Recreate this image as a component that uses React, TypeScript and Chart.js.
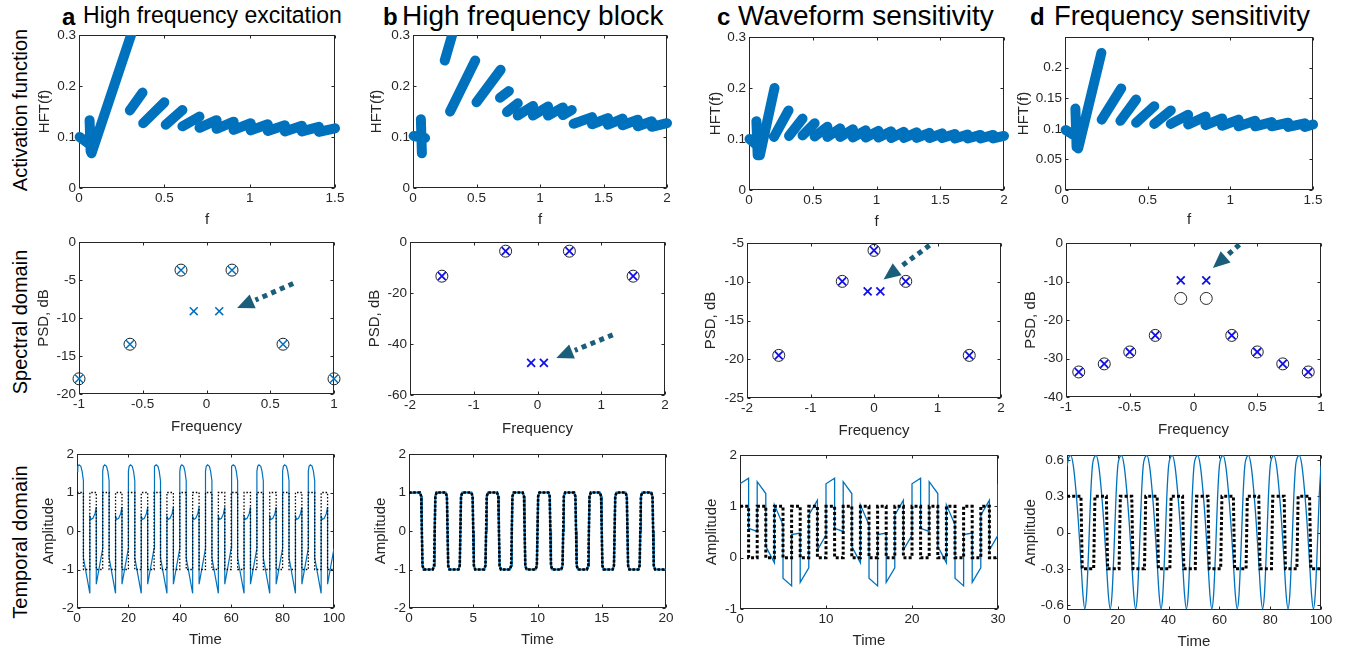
import React, { useEffect, useRef } from "react";
import { Chart, registerables } from "chart.js";
Chart.register(...registerables);

// ---------------- Row 1: activation function HFT(f) (segments separated by null) ----------------
const hftA: (number[] | null)[] = [
  [0.004, 0.1], [0.055, 0.087], null,
  [0.062, 0.133], [0.068, 0.072], null,
  [0.073, 0.068], [0.31, 0.305], null,
  [0.298, 0.152], [0.372, 0.187], null,
  [0.376, 0.127], [0.5, 0.168], null,
  [0.508, 0.124], [0.606, 0.153], null,
  [0.606, 0.121], [0.706, 0.14], null,
  [0.706, 0.118], [0.806, 0.133], null,
  [0.806, 0.116], [0.906, 0.13], null,
  [0.906, 0.114], [1.006, 0.127], null,
  [1.006, 0.113], [1.106, 0.125], null,
  [1.106, 0.112], [1.206, 0.123], null,
  [1.206, 0.111], [1.306, 0.122], null,
  [1.306, 0.111], [1.406, 0.12], null,
  [1.406, 0.11], [1.5, 0.117],
];
const hftB: (number[] | null)[] = [
  [0.005, 0.102], [0.095, 0.098], null,
  [0.062, 0.135], [0.07, 0.068], null,
  [0.25, 0.25], [0.32, 0.31], null,
  [0.292, 0.15], [0.49, 0.25], null,
  [0.5, 0.168], [0.69, 0.232], null,
  [0.685, 0.177], [0.755, 0.19], null,
  [0.74, 0.149], [0.825, 0.166], null,
  [0.825, 0.142], [0.945, 0.161], null,
  [0.945, 0.142], [1.063, 0.16], null,
  [1.063, 0.142], [1.18, 0.158], null,
  [1.18, 0.143], [1.25, 0.153], null,
  [1.265, 0.126], [1.41, 0.139], null,
  [1.41, 0.125], [1.535, 0.137], null,
  [1.535, 0.124], [1.65, 0.136], null,
  [1.65, 0.123], [1.77, 0.134], null,
  [1.77, 0.121], [1.88, 0.131], null,
  [1.88, 0.12], [2.0, 0.127],
];
const hftC: (number[] | null)[] = [
  [0.004, 0.1], [0.05, 0.09], null,
  [0.058, 0.135], [0.068, 0.068], null,
  [0.085, 0.068], [0.2, 0.2], null,
  [0.196, 0.104], [0.31, 0.156], null,
  [0.314, 0.106], [0.42, 0.14], null,
  [0.42, 0.107], [0.515, 0.131], null,
  [0.515, 0.105], [0.615, 0.124], null,
  [0.615, 0.104], [0.715, 0.121], null,
  [0.715, 0.104], [0.815, 0.119], null,
  [0.815, 0.103], [0.915, 0.117], null,
  [0.915, 0.103], [1.015, 0.116], null,
  [1.015, 0.103], [1.115, 0.115], null,
  [1.115, 0.102], [1.215, 0.114], null,
  [1.215, 0.102], [1.315, 0.113], null,
  [1.315, 0.102], [1.415, 0.112], null,
  [1.415, 0.102], [1.515, 0.111], null,
  [1.515, 0.102], [1.615, 0.11], null,
  [1.615, 0.101], [1.715, 0.109], null,
  [1.715, 0.101], [1.815, 0.108], null,
  [1.815, 0.101], [1.915, 0.108], null,
  [1.915, 0.101], [2.0, 0.106],
];
const hftD: (number[] | null)[] = [
  [0.004, 0.098], [0.05, 0.09], null,
  [0.063, 0.133], [0.07, 0.07], null,
  [0.08, 0.068], [0.22, 0.224], null,
  [0.222, 0.115], [0.34, 0.166], null,
  [0.335, 0.113], [0.43, 0.148], null,
  [0.43, 0.11], [0.54, 0.137], null,
  [0.54, 0.108], [0.64, 0.13], null,
  [0.64, 0.108], [0.745, 0.123], null,
  [0.745, 0.107], [0.85, 0.12], null,
  [0.85, 0.106], [0.95, 0.117], null,
  [0.95, 0.105], [1.05, 0.115], null,
  [1.05, 0.104], [1.15, 0.113], null,
  [1.15, 0.104], [1.25, 0.111], null,
  [1.25, 0.104], [1.35, 0.11], null,
  [1.35, 0.103], [1.45, 0.109], null,
  [1.45, 0.103], [1.5, 0.107],
];

// ---------------- Row 2: spectral domain (PSD, dB) ----------------
const psdA_circF = [-1, -0.6, -0.2, 0.2, 0.6, 1];
const psdA_circV = [-18, -13.45, -3.7, -3.7, -13.45, -18];
const psdA_xF = [-1, -0.6, -0.2, -0.1, 0.1, 0.2, 0.6, 1];
const psdA_xV = [-18, -13.45, -3.7, -9.1, -9.1, -3.7, -13.45, -18];

const psdB_circF = [-1.5, -0.5, 0.5, 1.5];
const psdB_circV = [-13.4, -3.6, -3.6, -13.4];
const psdB_xF = [-1.5, -0.5, -0.1, 0.1, 0.5, 1.5];
const psdB_xV = [-13.4, -3.6, -47.4, -47.4, -3.6, -13.4];

const psdC_circF = [-1.5, -0.5, 0, 0.5, 1.5];
const psdC_circV = [-19.5, -9.95, -5.95, -9.95, -19.5];
const psdC_xF = [-1.5, -0.5, -0.1, 0, 0.1, 0.5, 1.5];
const psdC_xV = [-19.5, -9.95, -11.24, -5.95, -11.24, -9.95, -19.5];

const psdD_circF = [-0.9, -0.7, -0.5, -0.3, -0.1, 0.1, 0.3, 0.5, 0.7, 0.9];
const psdD_circV = [-33.5, -31.4, -28.3, -24, -14.4, -14.4, -24, -28.3, -31.4, -33.5];
const psdD_xF = [-0.9, -0.7, -0.5, -0.3, -0.1, 0.1, 0.3, 0.5, 0.7, 0.9];
const psdD_xV = [-33.5, -31.4, -28.3, -24, -9.7, -9.7, -24, -28.3, -31.4, -33.5];

// arrow annotations (data units): [startX, startY, tipX, tipY]
const arrowA = [0.68, -5.46, 0.24, -8.7];
const arrowB = [1.18, -36.4, 0.295, -45.5];
const arrowC = [0.875, -5.3, 0.15, -9.7];
const arrowD = [0.36, -0.43, 0.152, -6.5];

// ---------------- Row 3: temporal domain ----------------
const tempA_blue: number[][] = [
  [0, 1.55], [0.3, 1.68], [0.8, 1.72], [1.5, 1.68], [2, 1.55], [2.5, 1.3], [2.5, -0.7], [5, -1.62], [5, 0.38], [5.5, 0.3], [6.2, 0.33], [7, 0.45], [7.5, 0.62], [7.5, -1.38], [10, -0.45],
  [10, 1.55], [10.3, 1.68], [10.8, 1.72], [11.5, 1.68], [12, 1.55], [12.5, 1.3], [12.5, -0.7], [15, -1.62], [15, 0.38], [15.5, 0.3], [16.2, 0.33], [17, 0.45], [17.5, 0.62], [17.5, -1.38], [20, -0.45],
  [20, 1.55], [20.3, 1.68], [20.8, 1.72], [21.5, 1.68], [22, 1.55], [22.5, 1.3], [22.5, -0.7], [25, -1.62], [25, 0.38], [25.5, 0.3], [26.2, 0.33], [27, 0.45], [27.5, 0.62], [27.5, -1.38], [30, -0.45],
  [30, 1.55], [30.3, 1.68], [30.8, 1.72], [31.5, 1.68], [32, 1.55], [32.5, 1.3], [32.5, -0.7], [35, -1.62], [35, 0.38], [35.5, 0.3], [36.2, 0.33], [37, 0.45], [37.5, 0.62], [37.5, -1.38], [40, -0.45],
  [40, 1.55], [40.3, 1.68], [40.8, 1.72], [41.5, 1.68], [42, 1.55], [42.5, 1.3], [42.5, -0.7], [45, -1.62], [45, 0.38], [45.5, 0.3], [46.2, 0.33], [47, 0.45], [47.5, 0.62], [47.5, -1.38], [50, -0.45],
  [50, 1.55], [50.3, 1.68], [50.8, 1.72], [51.5, 1.68], [52, 1.55], [52.5, 1.3], [52.5, -0.7], [55, -1.62], [55, 0.38], [55.5, 0.3], [56.2, 0.33], [57, 0.45], [57.5, 0.62], [57.5, -1.38], [60, -0.45],
  [60, 1.55], [60.3, 1.68], [60.8, 1.72], [61.5, 1.68], [62, 1.55], [62.5, 1.3], [62.5, -0.7], [65, -1.62], [65, 0.38], [65.5, 0.3], [66.2, 0.33], [67, 0.45], [67.5, 0.62], [67.5, -1.38], [70, -0.45],
  [70, 1.55], [70.3, 1.68], [70.8, 1.72], [71.5, 1.68], [72, 1.55], [72.5, 1.3], [72.5, -0.7], [75, -1.62], [75, 0.38], [75.5, 0.3], [76.2, 0.33], [77, 0.45], [77.5, 0.62], [77.5, -1.38], [80, -0.45],
  [80, 1.55], [80.3, 1.68], [80.8, 1.72], [81.5, 1.68], [82, 1.55], [82.5, 1.3], [82.5, -0.7], [85, -1.62], [85, 0.38], [85.5, 0.3], [86.2, 0.33], [87, 0.45], [87.5, 0.62], [87.5, -1.38], [90, -0.45],
  [90, 1.55], [90.3, 1.68], [90.8, 1.72], [91.5, 1.68], [92, 1.55], [92.5, 1.3], [92.5, -0.7], [95, -1.62], [95, 0.38], [95.5, 0.3], [96.2, 0.33], [97, 0.45], [97.5, 0.62], [97.5, -1.38], [100, -0.45],
];
const tempA_black: number[][] = [
  [0, 1], [2.5, 1], [2.5, -1], [5, -1], [5, 1], [7.5, 1], [7.5, -1], [10, -1],
  [10, 1], [12.5, 1], [12.5, -1], [15, -1], [15, 1], [17.5, 1], [17.5, -1], [20, -1],
  [20, 1], [22.5, 1], [22.5, -1], [25, -1], [25, 1], [27.5, 1], [27.5, -1], [30, -1],
  [30, 1], [32.5, 1], [32.5, -1], [35, -1], [35, 1], [37.5, 1], [37.5, -1], [40, -1],
  [40, 1], [42.5, 1], [42.5, -1], [45, -1], [45, 1], [47.5, 1], [47.5, -1], [50, -1],
  [50, 1], [52.5, 1], [52.5, -1], [55, -1], [55, 1], [57.5, 1], [57.5, -1], [60, -1],
  [60, 1], [62.5, 1], [62.5, -1], [65, -1], [65, 1], [67.5, 1], [67.5, -1], [70, -1],
  [70, 1], [72.5, 1], [72.5, -1], [75, -1], [75, 1], [77.5, 1], [77.5, -1], [80, -1],
  [80, 1], [82.5, 1], [82.5, -1], [85, -1], [85, 1], [87.5, 1], [87.5, -1], [90, -1],
  [90, 1], [92.5, 1], [92.5, -1], [95, -1], [95, 1], [97.5, 1], [97.5, -1], [100, -1],
];
const tempB_wave: number[][] = [
  [0, 1], [0.85, 1], [0.95, 0.9], [1, 0], [1.05, -0.9], [1.15, -1], [1.85, -1], [1.95, -0.9], [2, 0], [2.05, 0.9], [2.15, 1],
  [2.85, 1], [2.95, 0.9], [3, 0], [3.05, -0.9], [3.15, -1], [3.85, -1], [3.95, -0.9], [4, 0], [4.05, 0.9], [4.15, 1],
  [4.85, 1], [4.95, 0.9], [5, 0], [5.05, -0.9], [5.15, -1], [5.85, -1], [5.95, -0.9], [6, 0], [6.05, 0.9], [6.15, 1],
  [6.85, 1], [6.95, 0.9], [7, 0], [7.05, -0.9], [7.15, -1], [7.85, -1], [7.95, -0.9], [8, 0], [8.05, 0.9], [8.15, 1],
  [8.85, 1], [8.95, 0.9], [9, 0], [9.05, -0.9], [9.15, -1], [9.85, -1], [9.95, -0.9], [10, 0], [10.05, 0.9], [10.15, 1],
  [10.85, 1], [10.95, 0.9], [11, 0], [11.05, -0.9], [11.15, -1], [11.85, -1], [11.95, -0.9], [12, 0], [12.05, 0.9], [12.15, 1],
  [12.85, 1], [12.95, 0.9], [13, 0], [13.05, -0.9], [13.15, -1], [13.85, -1], [13.95, -0.9], [14, 0], [14.05, 0.9], [14.15, 1],
  [14.85, 1], [14.95, 0.9], [15, 0], [15.05, -0.9], [15.15, -1], [15.85, -1], [15.95, -0.9], [16, 0], [16.05, 0.9], [16.15, 1],
  [16.85, 1], [16.95, 0.9], [17, 0], [17.05, -0.9], [17.15, -1], [17.85, -1], [17.95, -0.9], [18, 0], [18.05, 0.9], [18.15, 1],
  [18.85, 1], [18.95, 0.9], [19, 0], [19.05, -0.9], [19.15, -1], [20, -1],
];
const tempC_blue: number[][] = [
  [0, 1.44], [1, 1.55], [1, 0.57], [2, 0.51], [2, 1.48], [3, 1.25], [3, 0.22], [4, -0.1], [4, 1.03], [5, 0.64],
  [5, -0.4], [6, -0.55], [6, 0.45], [7, 0.48], [7, -0.48], [8, -0.2], [8, 0.83], [9, 1.12], [9, 0.15], [10, 0.44],
  [10, 1.44], [11, 1.55], [11, 0.57], [12, 0.51], [12, 1.48], [13, 1.25], [13, 0.22], [14, -0.1], [14, 1.03], [15, 0.64],
  [15, -0.4], [16, -0.55], [16, 0.45], [17, 0.48], [17, -0.48], [18, -0.2], [18, 0.83], [19, 1.12], [19, 0.15], [20, 0.44],
  [20, 1.44], [21, 1.55], [21, 0.57], [22, 0.51], [22, 1.48], [23, 1.25], [23, 0.22], [24, -0.1], [24, 1.03], [25, 0.64],
  [25, -0.4], [26, -0.55], [26, 0.45], [27, 0.48], [27, -0.48], [28, -0.2], [28, 0.83], [29, 1.12], [29, 0.15], [30, 0.44],
  [30, 1.44],
];
const tempC_black: number[][] = [
  [0, 1], [1, 1], [1, 0], [2, 0], [2, 1], [3, 1], [3, 0], [4, 0], [4, 1], [5, 1], [5, 0], [6, 0],
  [6, 1], [7, 1], [7, 0], [8, 0], [8, 1], [9, 1], [9, 0], [10, 0], [10, 1], [11, 1], [11, 0], [12, 0],
  [12, 1], [13, 1], [13, 0], [14, 0], [14, 1], [15, 1], [15, 0], [16, 0], [16, 1], [17, 1], [17, 0], [18, 0],
  [18, 1], [19, 1], [19, 0], [20, 0], [20, 1], [21, 1], [21, 0], [22, 0], [22, 1], [23, 1], [23, 0], [24, 0],
  [24, 1], [25, 1], [25, 0], [26, 0], [26, 1], [27, 1], [27, 0], [28, 0], [28, 1], [29, 1], [29, 0], [30, 0],
];
const tempD_blue: number[][] = [
  [0, 0.55], [0.7, 0.62], [1.5, 0.635], [2.5, 0.55], [3.5, 0.35], [4.5, 0.08], [5.5, -0.25], [6.3, -0.52], [7, -0.63], [7.7, -0.52], [8.5, -0.15], [9.3, 0.3],
  [10, 0.55], [10.7, 0.62], [11.5, 0.635], [12.5, 0.55], [13.5, 0.35], [14.5, 0.08], [15.5, -0.25], [16.3, -0.52], [17, -0.63], [17.7, -0.52], [18.5, -0.15], [19.3, 0.3],
  [20, 0.55], [20.7, 0.62], [21.5, 0.635], [22.5, 0.55], [23.5, 0.35], [24.5, 0.08], [25.5, -0.25], [26.3, -0.52], [27, -0.63], [27.7, -0.52], [28.5, -0.15], [29.3, 0.3],
  [30, 0.55], [30.7, 0.62], [31.5, 0.635], [32.5, 0.55], [33.5, 0.35], [34.5, 0.08], [35.5, -0.25], [36.3, -0.52], [37, -0.63], [37.7, -0.52], [38.5, -0.15], [39.3, 0.3],
  [40, 0.55], [40.7, 0.62], [41.5, 0.635], [42.5, 0.55], [43.5, 0.35], [44.5, 0.08], [45.5, -0.25], [46.3, -0.52], [47, -0.63], [47.7, -0.52], [48.5, -0.15], [49.3, 0.3],
  [50, 0.55], [50.7, 0.62], [51.5, 0.635], [52.5, 0.55], [53.5, 0.35], [54.5, 0.08], [55.5, -0.25], [56.3, -0.52], [57, -0.63], [57.7, -0.52], [58.5, -0.15], [59.3, 0.3],
  [60, 0.55], [60.7, 0.62], [61.5, 0.635], [62.5, 0.55], [63.5, 0.35], [64.5, 0.08], [65.5, -0.25], [66.3, -0.52], [67, -0.63], [67.7, -0.52], [68.5, -0.15], [69.3, 0.3],
  [70, 0.55], [70.7, 0.62], [71.5, 0.635], [72.5, 0.55], [73.5, 0.35], [74.5, 0.08], [75.5, -0.25], [76.3, -0.52], [77, -0.63], [77.7, -0.52], [78.5, -0.15], [79.3, 0.3],
  [80, 0.55], [80.7, 0.62], [81.5, 0.635], [82.5, 0.55], [83.5, 0.35], [84.5, 0.08], [85.5, -0.25], [86.3, -0.52], [87, -0.63], [87.7, -0.52], [88.5, -0.15], [89.3, 0.3],
  [90, 0.55], [90.7, 0.62], [91.5, 0.635], [92.5, 0.55], [93.5, 0.35], [94.5, 0.08], [95.5, -0.25], [96.3, -0.52], [97, -0.63], [97.7, -0.52], [98.5, -0.15], [99.3, 0.3],
  [100, 0.55],
];
const tempD_black: number[][] = [
  [0, 0.3], [5.5, 0.3], [6, -0.3], [10.5, -0.3], [11, 0.3], [15.5, 0.3], [16, -0.3], [20.5, -0.3], [21, 0.3],
  [25.5, 0.3], [26, -0.3], [30.5, -0.3], [31, 0.3], [35.5, 0.3], [36, -0.3], [40.5, -0.3], [41, 0.3],
  [45.5, 0.3], [46, -0.3], [50.5, -0.3], [51, 0.3], [55.5, 0.3], [56, -0.3], [60.5, -0.3], [61, 0.3],
  [65.5, 0.3], [66, -0.3], [70.5, -0.3], [71, 0.3], [75.5, 0.3], [76, -0.3], [80.5, -0.3], [81, 0.3],
  [85.5, 0.3], [86, -0.3], [90.5, -0.3], [91, 0.3], [95.5, 0.3], [96, -0.3], [100, -0.3],
];

// ---------------- tick values ----------------
const ticksF15 = [0, 0.5, 1, 1.5];
const ticksF2 = [0, 0.5, 1, 1.5, 2];
const ticksHFT = [0, 0.1, 0.2, 0.3];
const ticksHFTd = [0, 0.05, 0.1, 0.15, 0.2];
const ticksFreq1 = [-1, -0.5, 0, 0.5, 1];
const ticksFreq2 = [-2, -1, 0, 1, 2];
const ticksPsdA = [-20, -15, -10, -5, 0];
const ticksPsdB = [-60, -40, -20, 0];
const ticksPsdC = [-25, -20, -15, -10, -5];
const ticksPsdD = [-40, -30, -20, -10, 0];
const ticksTime100 = [0, 20, 40, 60, 80, 100];
const ticksTime20 = [0, 5, 10, 15, 20];
const ticksTime30 = [0, 10, 20, 30];
const ticksAmp2 = [-2, -1, 0, 1, 2];
const ticksAmpC = [-1, 0, 1, 2];
const ticksAmpD = [-0.6, -0.3, 0, 0.3, 0.6];

// ---------------- styling ----------------
const FONT = "'Liberation Sans', Arial, Helvetica, sans-serif";
const LABEL_FONT = "'Liberation Sans', Arial, sans-serif";
const AXC = "#262626";
const BLUE = "#0072BD";
const XBLUE = "#1010E8";
const ARROWC = "#1B5E7B";

const segPts = (arr: (number[] | null)[]) => {
  let lx = 0;
  return arr.map((p) => (p ? ((lx = p[0]), { x: p[0], y: p[1] }) : { x: lx, y: null }));
};
const zip = (f: number[], v: number[]) => f.map((x, i) => ({ x, y: v[i] }));
const pairs = (a: number[][]) => a.map((p) => ({ x: p[0], y: p[1] }));

type Cfg = {
  rect: number[];
  x: [number, number]; y: [number, number];
  xt: number[]; yt: number[];
  xl: string; yl: string;
  xd: number; yd: number;
  datasets: any[];
  arrow?: number[];
};

const hftDs = (d: (number[] | null)[]) => [{
  data: segPts(d), borderColor: BLUE, borderWidth: 10, borderCapStyle: "round", borderJoinStyle: "round",
  pointRadius: 0, spanGaps: false, tension: 0, clip: { left: 6, top: 0, right: 6, bottom: 6 },
}];
const psdDs = (xf: number[], xv: number[], cf: number[], cv: number[], xc: string, xw: number) => [
  { data: zip(xf, xv), showLine: false, pointStyle: "crossRot", pointRadius: 5.6, borderColor: xc, borderWidth: xw, backgroundColor: xc, clip: false },
  { data: zip(cf, cv), showLine: false, pointStyle: "circle", pointRadius: 6, borderColor: AXC, borderWidth: 1, backgroundColor: "rgba(0,0,0,0)", clip: false },
];
const tempDs = (black: number[][], blue: number[][], bw: number, dash: number[], bluew: number, smooth = false) => [
  { data: pairs(black), borderColor: "#000", borderWidth: bw, borderDash: dash, pointRadius: 0, tension: 0 },
  { data: pairs(blue), borderColor: BLUE, borderWidth: bluew, pointRadius: 0, tension: 0, cubicInterpolationMode: smooth ? "monotone" : "default" },
];

const panels: Cfg[] = [
  { rect: [79, 35, 335, 188], x: [0, 1.5], y: [0, 0.3], xt: ticksF15, yt: ticksHFT, xl: "f", yl: "HFT(f)", xd: 31.5, yd: 34, datasets: hftDs(hftA) },
  { rect: [413, 35, 667, 188], x: [0, 2], y: [0, 0.3], xt: ticksF2, yt: ticksHFT, xl: "f", yl: "HFT(f)", xd: 31.5, yd: 36, datasets: hftDs(hftB) },
  { rect: [749, 37, 1004, 190], x: [0, 2], y: [0, 0.3], xt: ticksF2, yt: ticksHFT, xl: "f", yl: "HFT(f)", xd: 31.5, yd: 33, datasets: hftDs(hftC) },
  { rect: [1065, 37, 1313, 190], x: [0, 1.5], y: [0, 0.25], xt: ticksF15, yt: ticksHFTd, xl: "f", yl: "HFT(f)", xd: 30, yd: 41, datasets: hftDs(hftD) },
  { rect: [79, 242, 334, 394], x: [-1, 1], y: [-20, 0], xt: ticksFreq1, yt: ticksPsdA, xl: "Frequency", yl: "PSD, dB", xd: 33, yd: 35, datasets: psdDs(psdA_xF, psdA_xV, psdA_circF, psdA_circV, BLUE, 1.5), arrow: arrowA },
  { rect: [410, 242, 665, 395], x: [-2, 2], y: [-60, 0], xt: ticksFreq2, yt: ticksPsdB, xl: "Frequency", yl: "PSD, dB", xd: 33.5, yd: 35, datasets: psdDs(psdB_xF, psdB_xV, psdB_circF, psdB_circV, XBLUE, 1.8), arrow: arrowB },
  { rect: [747, 243, 1001, 398], x: [-2, 2], y: [-25, -5], xt: ticksFreq2, yt: ticksPsdC, xl: "Frequency", yl: "PSD, dB", xd: 33, yd: 36, datasets: psdDs(psdC_xF, psdC_xV, psdC_circF, psdC_circV, XBLUE, 1.8), arrow: arrowC },
  { rect: [1066, 243, 1321, 397], x: [-1, 1], y: [-40, 0], xt: ticksFreq1, yt: ticksPsdD, xl: "Frequency", yl: "PSD, dB", xd: 32.5, yd: 35, datasets: psdDs(psdD_xF, psdD_xV, psdD_circF, psdD_circV, XBLUE, 1.8), arrow: arrowD },
  { rect: [77, 454, 334, 608], x: [0, 100], y: [-2, 2], xt: ticksTime100, yt: ticksAmp2, xl: "Time", yl: "Amplitude", xd: 31.5, yd: 28.5, datasets: tempDs(tempA_black, tempA_blue, 1.3, [1.5, 1.8], 1.2) },
  { rect: [409, 454, 666, 608], x: [0, 20], y: [-2, 2], xt: ticksTime20, yt: ticksAmp2, xl: "Time", yl: "Amplitude", xd: 31.5, yd: 28.5, datasets: tempDs(tempB_wave, tempB_wave, 2.6, [2.6, 1.6], 2.2) },
  { rect: [740, 455, 998, 609], x: [0, 30], y: [-1, 2], xt: ticksTime30, yt: ticksAmpC, xl: "Time", yl: "Amplitude", xd: 32, yd: 28.5, datasets: tempDs(tempC_black, tempC_blue, 3, [3, 2.2], 1.3) },
  { rect: [1067, 455, 1321, 610], x: [0, 100], y: [-0.64, 0.64], xt: ticksTime100, yt: ticksAmpD, xl: "Time", yl: "Amplitude", xd: 32, yd: 36.5, datasets: tempDs(tempD_black, tempD_blue, 3, [3, 2.2], 1.3, true) },
];

const PAD_L = 75, PAD_R = 24, PAD_T = 14, PAD_B = 50;
const TICK_SIZE = 13.5, TITLE_SIZE = 15, TITLE_LH = 18;

const fmt = (v: number) => {
  const r = Math.round(v * 1000) / 1000;
  return String(r === 0 ? 0 : r);
};

const framePlugin = {
  id: "frame",
  beforeDatasetsDraw(chart: any) {
    const { ctx, chartArea } = chart;
    const xs = chart.scales.x, ys = chart.scales.y;
    const L = Math.round(chartArea.left) + 0.5, R = Math.round(chartArea.right) - 0.5;
    const T = Math.round(chartArea.top) + 0.5, B = Math.round(chartArea.bottom) - 0.5;
    ctx.save();
    ctx.strokeStyle = AXC;
    ctx.lineWidth = 1;
    ctx.strokeRect(L, T, R - L, B - T);
    const tl = 3;
    ctx.beginPath();
    xs.ticks.forEach((tk: any) => {
      const px = Math.round(xs.getPixelForValue(tk.value)) + 0.5;
      ctx.moveTo(px, B); ctx.lineTo(px, B - tl);
      ctx.moveTo(px, T); ctx.lineTo(px, T + tl);
    });
    ys.ticks.forEach((tk: any) => {
      const py = Math.round(ys.getPixelForValue(tk.value)) + 0.5;
      ctx.moveTo(L, py); ctx.lineTo(L + tl, py);
      ctx.moveTo(R, py); ctx.lineTo(R - tl, py);
    });
    ctx.stroke();
    ctx.restore();
  },
};

function Panel({ cfg }: { cfg: Cfg }) {
  const ref = useRef<HTMLCanvasElement>(null);
  const [l, t, r, b] = cfg.rect;
  const W = r - l + PAD_L + PAD_R;
  const H = b - t + PAD_T + PAD_B;
  useEffect(() => {
    const arrowPlugin = {
      id: "arrowAnno",
      afterDatasetsDraw(chart: any) {
        if (!cfg.arrow) return;
        const { ctx } = chart;
        const xs = chart.scales.x, ys = chart.scales.y;
        const [sx, sy, tx, ty] = cfg.arrow;
        const p0 = { x: xs.getPixelForValue(sx), y: ys.getPixelForValue(sy) };
        const p1 = { x: xs.getPixelForValue(tx), y: ys.getPixelForValue(ty) };
        const dx = p1.x - p0.x, dy = p1.y - p0.y;
        const len = Math.hypot(dx, dy);
        const ux = dx / len, uy = dy / len;
        const headLen = 17, headHalf = 7.5;
        const bx = p1.x - ux * headLen, by = p1.y - uy * headLen;
        ctx.save();
        ctx.strokeStyle = ARROWC;
        ctx.fillStyle = ARROWC;
        ctx.lineWidth = 5;
        ctx.setLineDash([5, 4.5]);
        ctx.lineCap = "butt";
        ctx.beginPath();
        ctx.moveTo(p0.x, p0.y);
        ctx.lineTo(bx - ux * 3, by - uy * 3);
        ctx.stroke();
        ctx.setLineDash([]);
        ctx.beginPath();
        ctx.moveTo(p1.x, p1.y);
        ctx.lineTo(bx - uy * headHalf, by + ux * headHalf);
        ctx.lineTo(bx + uy * headHalf, by - ux * headHalf);
        ctx.closePath();
        ctx.fill();
        ctx.restore();
      },
    };
    const tickFont = { family: FONT, size: TICK_SIZE };
    const titleFont = { family: FONT, size: TITLE_SIZE, lineHeight: TITLE_LH / TITLE_SIZE };
    const chart = new Chart(ref.current as HTMLCanvasElement, {
      type: "line",
      data: { datasets: cfg.datasets },
      options: {
        animation: false,
        responsive: false,
        devicePixelRatio: 1,
        events: [],
        layout: { padding: { left: 0, top: PAD_T, right: PAD_R, bottom: 0 }, autoPadding: false },
        plugins: { legend: { display: false }, tooltip: { enabled: false } },
        scales: {
          x: {
            type: "linear", min: cfg.x[0], max: cfg.x[1],
            afterBuildTicks: (ax: any) => { ax.ticks = cfg.xt.map((v) => ({ value: v })); },
            afterFit: (ax: any) => { ax.height = PAD_B; },
            grid: { display: false, drawTicks: false },
            border: { display: false },
            ticks: { font: tickFont, color: AXC, padding: 2, maxRotation: 0, autoSkip: false, callback: (v: any) => fmt(Number(v)) },
            title: { display: true, text: cfg.xl, color: AXC, font: titleFont, padding: { top: 0, bottom: PAD_B - TITLE_LH / 2 - cfg.xd } },
          },
          y: {
            type: "linear", min: cfg.y[0], max: cfg.y[1],
            afterBuildTicks: (ax: any) => { ax.ticks = cfg.yt.map((v) => ({ value: v })); },
            afterFit: (ax: any) => { ax.width = PAD_L; },
            grid: { display: false, drawTicks: false },
            border: { display: false },
            ticks: { font: tickFont, color: AXC, padding: 3, autoSkip: false, callback: (v: any) => fmt(Number(v)) },
            title: { display: true, text: cfg.yl, color: AXC, font: titleFont, padding: { top: PAD_L - cfg.yd - TITLE_LH / 2, bottom: 0 } },
          },
        },
      } as any,
      plugins: [framePlugin, arrowPlugin],
    });
    return () => chart.destroy();
  }, []);
  return (
    <canvas
      ref={ref}
      width={W}
      height={H}
      style={{ position: "absolute", left: l - PAD_L, top: t - PAD_T, width: W, height: H }}
    />
  );
}

// column titles: bold letter + text fitted to its span in the reference
const colTitles = [
  { letter: "a", text: "High frequency excitation", lx: 62, tx: 83, tw: 259 },
  { letter: "b", text: "High frequency block", lx: 383, tx: 402, tw: 263 },
  { letter: "c", text: "Waveform sensitivity", lx: 717, tx: 738, tw: 262 },
  { letter: "d", text: "Frequency sensitivity", lx: 1030, tx: 1054, tw: 256 },
];
const rowLabels = [
  { text: "Activation function", cy: 110 },
  { text: "Spectral domain", cy: 322 },
  { text: "Temporal domain", cy: 542 },
];

const fitSize = (text: string, width: number) => {
  const c = document.createElement("canvas").getContext("2d");
  if (!c) return 22;
  c.font = `100px ${LABEL_FONT}`;
  const w = c.measureText(text).width;
  return Math.min(28, (100 * width) / w);
};

export default function App() {
  return (
    <div style={{ position: "absolute", left: 0, top: 0, width: 1354, height: 652, background: "#fff", overflow: "hidden" }}>
      {colTitles.map((c) => {
        const fs = fitSize(c.text, c.tw);
        return (
          <React.Fragment key={c.letter}>
            <div style={{ position: "absolute", left: c.lx, top: 17 - 13, fontFamily: LABEL_FONT, fontSize: 24, fontWeight: 700, lineHeight: "26px", color: "#000" }}>{c.letter}</div>
            <div style={{ position: "absolute", left: c.tx, top: 17 - fs / 2 - 1, fontFamily: LABEL_FONT, fontSize: fs, lineHeight: `${fs}px`, color: "#000", whiteSpace: "nowrap" }}>{c.text}</div>
          </React.Fragment>
        );
      })}
      {rowLabels.map((r) => (
        <div
          key={r.text}
          style={{
            position: "absolute", left: 20, top: r.cy, transform: "translate(-50%, -50%) rotate(-90deg)",
            fontFamily: LABEL_FONT, fontSize: 20, lineHeight: "24px", whiteSpace: "nowrap", color: "#000",
          }}
        >
          {r.text}
        </div>
      ))}
      {panels.map((p, i) => (
        <Panel key={i} cfg={p} />
      ))}
    </div>
  );
}
